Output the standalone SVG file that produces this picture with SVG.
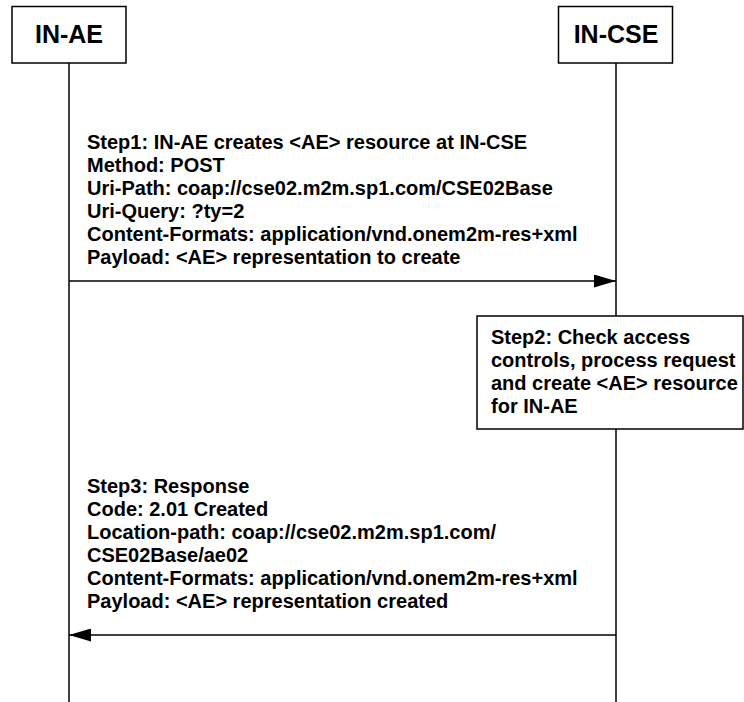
<svg xmlns="http://www.w3.org/2000/svg" width="744" height="702" viewBox="0 0 744 702">
<defs>
<style>
.box{fill:#fff;stroke:#000;stroke-width:1.5}
.life{stroke:#000;stroke-width:1.5;fill:none}
.msg{stroke:#000;stroke-width:1.5;fill:none}
.title{font-family:"Liberation Sans",Arial,sans-serif;font-weight:bold;font-size:25px;fill:#000}
.t{font-family:"Liberation Sans",Arial,sans-serif;font-weight:bold;font-size:20px;fill:#000}
</style>
<marker id="ah" viewBox="0 0 22 13" refX="22" refY="6.5" markerWidth="22" markerHeight="13" markerUnits="userSpaceOnUse" orient="auto">
<path d="M0,0 L22,6.5 L0,13 Z" fill="#000"/>
</marker>
</defs>
<rect width="744" height="702" fill="#fff"/>
<g id="lifelines">
<line class="life" x1="69" y1="63" x2="69" y2="702"/>
<line class="life" x1="616" y1="63" x2="616" y2="702"/>
</g>
<g id="IN-AE">
<rect class="box" x="12" y="6.5" width="114" height="56.5"/>
<text class="title" x="69" y="43" text-anchor="middle">IN-AE</text>
</g>
<g id="IN-CSE">
<rect class="box" x="558.5" y="6.5" width="114" height="56.5"/>
<text class="title" x="616" y="43" text-anchor="middle">IN-CSE</text>
</g>
<g id="connectors">
<line class="msg" x1="69" y1="281" x2="616" y2="281" marker-end="url(#ah)"/>
<line class="msg" x1="616" y1="635" x2="69" y2="635" marker-end="url(#ah)"/>
</g>
<g id="step1">
<text class="t" x="87" y="149">Step1: IN-AE creates &lt;AE&gt; resource at IN-CSE</text>
<text class="t" x="87" y="172">Method: POST</text>
<text class="t" x="87" y="195">Uri-Path: coap://cse02.m2m.sp1.com/CSE02Base</text>
<text class="t" x="87" y="218">Uri-Query: ?ty=2</text>
<text class="t" x="87" y="241">Content-Formats: application/vnd.onem2m-res+xml</text>
<text class="t" x="87" y="264">Payload: &lt;AE&gt; representation to create</text>
</g>
<g id="step2">
<rect class="box" x="477" y="316" width="266" height="113"/>
<text class="t" x="491" y="344">Step2: Check access</text>
<text class="t" x="491" y="367">controls, process request</text>
<text class="t" x="491" y="390">and create &lt;AE&gt; resource</text>
<text class="t" x="491" y="413">for IN-AE</text>
</g>
<g id="step3">
<text class="t" x="87" y="493">Step3: Response</text>
<text class="t" x="87" y="516">Code: 2.01 Created</text>
<text class="t" x="87" y="539">Location-path: coap://cse02.m2m.sp1.com/</text>
<text class="t" x="87" y="562">CSE02Base/ae02</text>
<text class="t" x="87" y="585">Content-Formats: application/vnd.onem2m-res+xml</text>
<text class="t" x="87" y="608">Payload: &lt;AE&gt; representation created</text>
</g>
</svg>
